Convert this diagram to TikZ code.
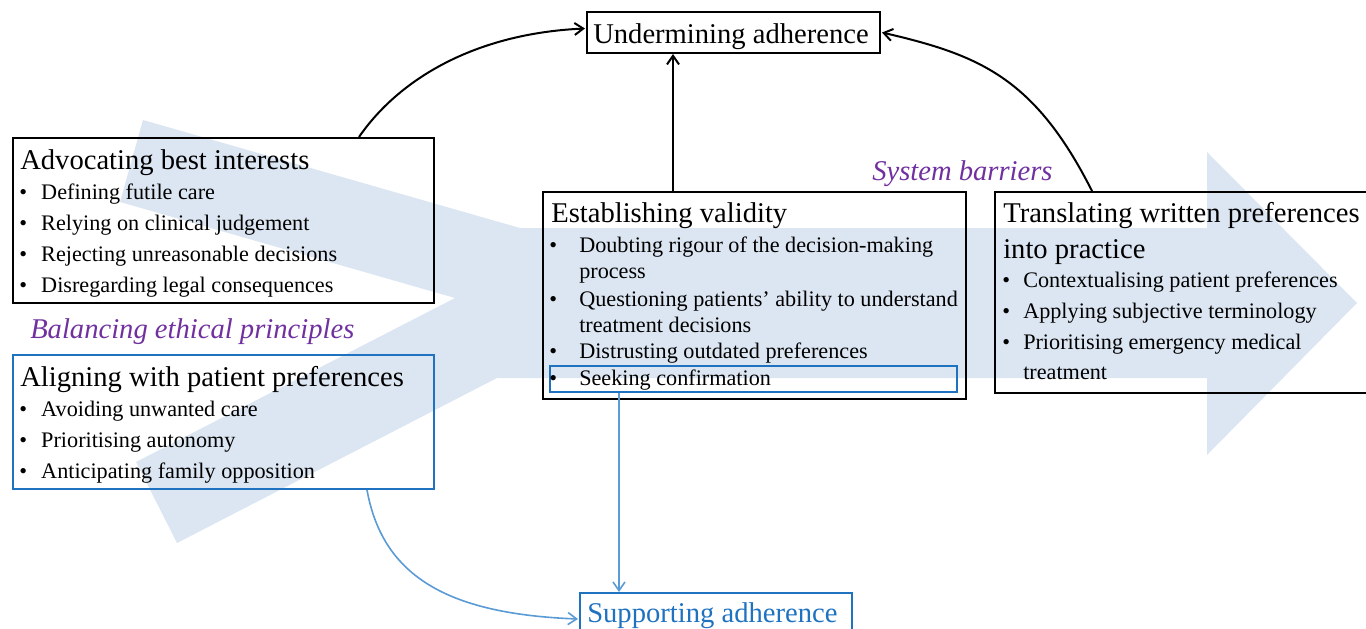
\documentclass[tikz,border=0pt]{standalone}
\usepackage{fontspec}
\setmainfont{Liberation Serif}
\usetikzlibrary{arrows.meta,calc,fit}
\definecolor{arrowbg}{HTML}{DCE6F2}
\definecolor{boxblue}{HTML}{1F72C0}
\definecolor{linkblue}{HTML}{5B9BD5}
\definecolor{purp}{HTML}{7030A0}
\newcommand{\bulitem}[2]{\makebox[#1][l]{\textbullet}#2}
\begin{document}
\begin{tikzpicture}[x=0.75pt,y=-0.75pt,
  box/.style={draw=black,line width=1.5pt,inner sep=0pt},
  bbox/.style={draw=boxblue,line width=1.5pt,inner sep=0pt},
  ttl/.style={anchor=base west,inner sep=0pt,font=\fontsize{21.45}{26}\selectfont},
  itm/.style={anchor=base west,inner sep=0pt,font=\fontsize{16.65}{20}\selectfont},
  theme/.style={anchor=base west,inner sep=0pt,text=purp,font=\fontsize{21.45}{26}\selectfont\itshape},
  blk/.style={draw=black,line width=1.5pt,-{Straight Barb[length=6.5pt,width=9pt]}},
  blu/.style={draw=linkblue,line width=1.2pt,-{Straight Barb[length=6.5pt,width=9pt]}}]
\useasboundingbox (0,0) rectangle (1366,628);
% background arrow
\fill[arrowbg] (143,120) -- (520,228) -- (1207,228) -- (1207,152) -- (1357,303)
  -- (1207,455) -- (1207,378) -- (497,378) -- (177,543) -- (136,462)
  -- (455,298) -- (120,202) -- cycle;
% boxes
\node[box,fit={(587,12) (880,53)}] (und) {};
\node[box,fit={(13,138) (434,303)}] (adv) {};
\node[bbox,fit={(13,355) (434,489)}] (ali) {};
\node[box,fit={(543,192) (966,399)}] (est) {};
\node[bbox,fit={(550,366) (957,392)}] (seek) {};
\node[box,fit={(995,192) (1372,393)}] (tra) {};
\node[bbox,fit={(580,593) (852,645)}] (sup) {};
% texts
\node[ttl] (undt) at (593,43) {Undermining adherence};
\node[ttl] (advt) at (20,169) {Advocating best interests};
\node[itm] (adv1) at (19,199) {\bulitem{16.5pt}{Defining futile care}};
\node[itm] (adv2) at (19,230) {\bulitem{16.5pt}{Relying on clinical judgement}};
\node[itm] (adv3) at (19,261) {\bulitem{16.5pt}{Rejecting unreasonable decisions}};
\node[itm] (adv4) at (19,292) {\bulitem{16.5pt}{Disregarding legal consequences}};
\node[theme] (bal) at (30,338) {Balancing ethical principles};
\node[ttl] (alit) at (20,386) {Aligning with patient preferences};
\node[itm] (ali1) at (19,416) {\bulitem{16.5pt}{Avoiding unwanted care}};
\node[itm] (ali2) at (19,447) {\bulitem{16.5pt}{Prioritising autonomy}};
\node[itm] (ali3) at (19,478) {\bulitem{16.5pt}{Anticipating family opposition}};
\node[ttl] (estt) at (551,222) {Establishing validity};
\node[itm] (est1) at (549,252) {\bulitem{22.5pt}{Doubting rigour of the decision-making}};
\node[itm] (est1b) at (579,278) {process};
\node[itm] (est2) at (549,306) {\bulitem{22.5pt}{Questioning patients’ ability to understand}};
\node[itm] (est2b) at (579,332) {treatment decisions};
\node[itm] (est3) at (549,358) {\bulitem{22.5pt}{Distrusting outdated preferences}};
\node[itm] (est4) at (549,385) {\bulitem{22.5pt}{Seeking confirmation}};
\node[theme] (sys) at (872,180) {System barriers};
\node[ttl] (trat) at (1003,222) {Translating written preferences};
\node[ttl] (trat2) at (1003,258) {into practice};
\node[itm] (tra1) at (1002,287) {\bulitem{15.75pt}{Contextualising patient preferences}};
\node[itm] (tra2) at (1002,318) {\bulitem{15.75pt}{Applying subjective terminology}};
\node[itm] (tra3) at (1002,349) {\bulitem{15.75pt}{Prioritising emergency medical}};
\node[itm] (tra3b) at (1023,379) {treatment};
\node[ttl,text=boxblue] (supt) at (587,622) {Supporting adherence};
% connectors
\draw[blk] ($(adv.north west)+(347,0)$) .. controls (399,79) and (475,33.5) .. ($(und.west)+(-1,-4)$);
\draw[blk] ($(est.north west)+(131,0)$) coordinate (ev) -- (ev |- und.south);
\draw[blk] ($(tra.north west)+(98,0)$) .. controls (1034.5,77.3) and (979,55) .. ($(und.east)+(1,0)$);
\draw[blu] ($(ali.south west)+(355,0)$) .. controls (383,578) and (450,614) .. ($(sup.west)+(-1,0)$ |- 0,614);
\draw[blu] ($(seek.south west)+(70,0)$) coordinate (sv) -- (sv |- sup.north);
\end{tikzpicture}
\end{document}
